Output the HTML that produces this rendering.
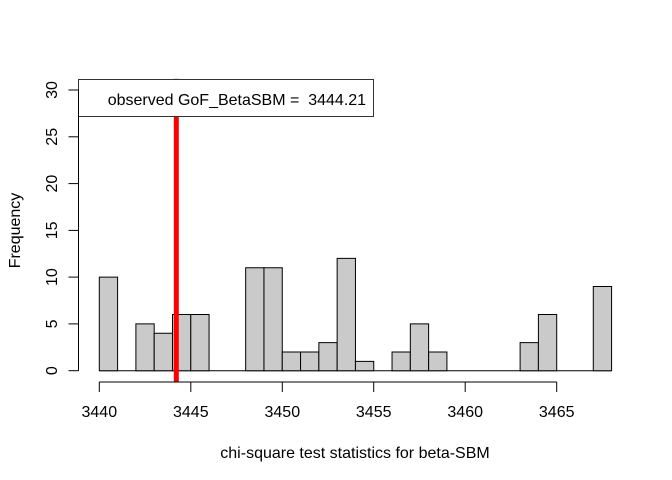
<!DOCTYPE html>
<html><head><meta charset="utf-8"><style>
html,body{margin:0;padding:0;background:#fff;}
svg{display:block;font-family:"Liberation Sans",Arial,sans-serif;}
</style></head><body>
<svg width="672" height="480" viewBox="0 0 672 480" xmlns="http://www.w3.org/2000/svg">
<rect width="672" height="480" fill="#fff"/>
<line x1="99.3" y1="370.7" x2="611.6" y2="370.7" stroke="#000" stroke-width="1"/>
<g transform="translate(99.3,370.7) scale(18.296,-9.357)" fill="#cacaca" stroke="#000">
<rect x="0" y="0" width="1" height="10" vector-effect="non-scaling-stroke"/>
<rect x="2" y="0" width="1" height="5" vector-effect="non-scaling-stroke"/>
<rect x="3" y="0" width="1" height="4" vector-effect="non-scaling-stroke"/>
<rect x="4" y="0" width="1" height="6" vector-effect="non-scaling-stroke"/>
<rect x="5" y="0" width="1" height="6" vector-effect="non-scaling-stroke"/>
<rect x="8" y="0" width="1" height="11" vector-effect="non-scaling-stroke"/>
<rect x="9" y="0" width="1" height="11" vector-effect="non-scaling-stroke"/>
<rect x="10" y="0" width="1" height="2" vector-effect="non-scaling-stroke"/>
<rect x="11" y="0" width="1" height="2" vector-effect="non-scaling-stroke"/>
<rect x="12" y="0" width="1" height="3" vector-effect="non-scaling-stroke"/>
<rect x="13" y="0" width="1" height="12" vector-effect="non-scaling-stroke"/>
<rect x="14" y="0" width="1" height="1" vector-effect="non-scaling-stroke"/>
<rect x="16" y="0" width="1" height="2" vector-effect="non-scaling-stroke"/>
<rect x="17" y="0" width="1" height="5" vector-effect="non-scaling-stroke"/>
<rect x="18" y="0" width="1" height="2" vector-effect="non-scaling-stroke"/>
<rect x="23" y="0" width="1" height="3" vector-effect="non-scaling-stroke"/>
<rect x="24" y="0" width="1" height="6" vector-effect="non-scaling-stroke"/>
<rect x="27" y="0" width="1" height="9" vector-effect="non-scaling-stroke"/>
</g>
<!-- red observed line -->
<rect x="173.8" y="78.8" width="5" height="303.2" fill="#ff0000"/>
<!-- legend -->
<rect x="78.5" y="79.5" width="295" height="37" fill="#fff" stroke="#333" stroke-width="1"/>
<text x="107.7" y="105" font-size="16" fill="#000" style="white-space:pre">observed GoF_BetaSBM =  3444.21</text>
<!-- y axis -->
<g stroke="#000" stroke-width="1" fill="none">
<line x1="78.5" y1="90" x2="78.5" y2="370.7"/>
<line x1="68.5" y1="370.7" x2="78.5" y2="370.7"/>
<line x1="68.5" y1="323.9" x2="78.5" y2="323.9"/>
<line x1="68.5" y1="277.1" x2="78.5" y2="277.1"/>
<line x1="68.5" y1="230.4" x2="78.5" y2="230.4"/>
<line x1="68.5" y1="183.6" x2="78.5" y2="183.6"/>
<line x1="68.5" y1="136.8" x2="78.5" y2="136.8"/>
<line x1="68.5" y1="90" x2="78.5" y2="90"/>
</g>
<g font-size="16" fill="#000" text-anchor="middle">
<text transform="translate(57,370.7) rotate(-90)">0</text>
<text transform="translate(57,323.9) rotate(-90)">5</text>
<text transform="translate(57,277.1) rotate(-90)">10</text>
<text transform="translate(57,230.4) rotate(-90)">15</text>
<text transform="translate(57,183.6) rotate(-90)">20</text>
<text transform="translate(57,136.8) rotate(-90)">25</text>
<text transform="translate(57,90) rotate(-90)">30</text>
<text transform="translate(20,230.5) rotate(-90)">Frequency</text>
</g>
<!-- x axis -->
<g stroke="#000" stroke-width="1" fill="none">
<line x1="99.3" y1="382" x2="556.7" y2="382"/>
<line x1="99.3" y1="382" x2="99.3" y2="392"/>
<line x1="190.8" y1="382" x2="190.8" y2="392"/>
<line x1="282.3" y1="382" x2="282.3" y2="392"/>
<line x1="373.7" y1="382" x2="373.7" y2="392"/>
<line x1="465.2" y1="382" x2="465.2" y2="392"/>
<line x1="556.7" y1="382" x2="556.7" y2="392"/>
</g>
<g font-size="16" fill="#000" text-anchor="middle">
<text x="99.3" y="417">3440</text>
<text x="190.8" y="417">3445</text>
<text x="282.3" y="417">3450</text>
<text x="373.7" y="417">3455</text>
<text x="465.2" y="417">3460</text>
<text x="556.7" y="417">3465</text>
<text x="355" y="458">chi-square test statistics for beta-SBM</text>
</g>
</svg>
</body></html>
